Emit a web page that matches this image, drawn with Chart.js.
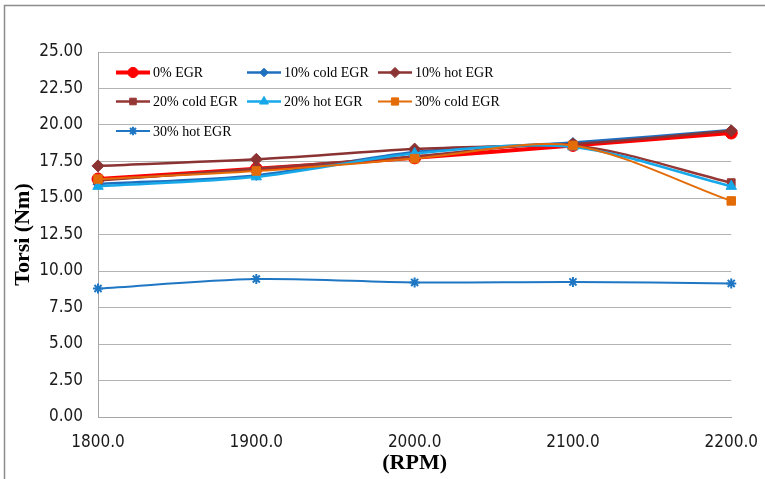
<!DOCTYPE html>
<html>
<head>
<meta charset="utf-8">
<script src="https://cdn.jsdelivr.net/npm/chart.js@4/dist/chart.umd.min.js"></script>
<style>
  html, body { margin: 0; padding: 0; background: #fff; }
  #wrap { width: 765px; height: 479px; position: relative; }
</style>
</head>
<body>
<div id="wrap"><canvas id="c" width="765" height="479"></canvas></div>
<script>
// Engine speed (RPM) and torque (Nm) per EGR configuration
const rpm = [1800, 1900, 2000, 2100, 2200];
const egr0 = [16.3, 17.0, 17.75, 18.6, 19.45];
const egr10Cold = [15.95, 16.55, 18.15, 18.8, 19.65];
const egr10Hot = [17.2, 17.65, 18.35, 18.7, 19.6];
const egr20Cold = [16.2, 17.0, 17.85, 18.6, 16.05];
const egr20Hot = [15.8, 16.45, 18.05, 18.5, 15.8];
const egr30Cold = [16.3, 16.85, 17.7, 18.6, 14.8];
const egr30Hot = [8.8, 9.45, 9.22, 9.25, 9.15];
const yTicks = { min: 0, max: 25, step: 2.5 };

const seriesNames = ['0% EGR', '10% cold EGR', '10% hot EGR', '20% cold EGR', '20% hot EGR', '30% cold EGR', '30% hot EGR'];
const seriesData = [egr0, egr10Cold, egr10Hot, egr20Cold, egr20Hot, egr30Cold, egr30Hot];
const seriesStyle = [
  { color: '#ff0000', width: 4, point: 'circle', radius: 6 },
  { color: '#1f6fbf', width: 2.5, point: 'rectRot', radius: 5 },
  { color: '#8b3333', width: 2.5, point: 'rectRot', radius: 6 },
  { color: '#953735', width: 2.5, point: 'rect', radius: 5.5 },
  { color: '#16a8e8', width: 2.5, point: 'triangle', radius: 6 },
  { color: '#e36c09', width: 2, point: 'rect', radius: 6 },
  { color: '#1f77c4', width: 2, point: 'star', radius: 5 }
];

const tickFont = '"Liberation Sans Narrow", "Arial Narrow", "DejaVu Sans Condensed", "Roboto Condensed", sans-serif';
const serifFont = '"Liberation Serif", "Times New Roman", serif';

const datasets = seriesNames.map((name, i) => {
  const s = seriesStyle[i];
  return {
    label: name,
    data: seriesData[i],
    borderColor: s.color,
    backgroundColor: s.color,
    borderWidth: s.width,
    pointStyle: s.point,
    pointRadius: s.radius,
    pointBorderWidth: s.point === 'star' ? 2 : 1,
    pointBorderColor: s.color,
    pointBackgroundColor: s.color,
    tension: 0.3,
    clip: false,
    order: seriesNames.length - i
  };
});

// Outer frame of the figure
const framePlugin = {
  id: 'frame',
  beforeDraw(chart) {
    const ctx = chart.ctx;
    ctx.save();
    ctx.fillStyle = '#fff';
    ctx.fillRect(0, 0, chart.width, chart.height);
    ctx.strokeStyle = '#8c8c8c';
    ctx.lineWidth = 1.5;
    ctx.strokeRect(4.5, 5.5, chart.width + 20, chart.height + 20);
    ctx.restore();
  }
};

// Three-column legend drawn inside the plot area
const legendPlugin = {
  id: 'insideLegend',
  afterDraw(chart) {
    const ctx = chart.ctx;
    const colX = [116, 247, 378];
    const rowY = [72.5, 101.5, 131];
    const lineLen = 34;
    ctx.save();
    ctx.font = '14px ' + serifFont;
    ctx.textBaseline = 'middle';
    chart.data.datasets.forEach((ds, i) => {
      const x = colX[i % 3];
      const y = rowY[Math.floor(i / 3)];
      ctx.strokeStyle = ds.borderColor;
      ctx.lineWidth = ds.borderWidth;
      ctx.beginPath();
      ctx.moveTo(x, y);
      ctx.lineTo(x + lineLen, y);
      ctx.stroke();
      ctx.fillStyle = ds.pointBackgroundColor;
      ctx.lineWidth = ds.pointBorderWidth;
      Chart.helpers.drawPoint(ctx, {
        pointStyle: ds.pointStyle,
        radius: ds.pointRadius * 0.85,
        borderWidth: ds.pointBorderWidth,
        rotation: 0
      }, x + lineLen / 2, y);
      ctx.fillStyle = '#000';
      ctx.fillText(ds.label, x + lineLen + 3, y + 1);
    });
    ctx.restore();
  }
};

new Chart(document.getElementById('c'), {
  type: 'line',
  data: { labels: rpm.map(v => v.toFixed(1)), datasets },
  options: {
    responsive: false,
    animation: false,
    devicePixelRatio: 1,
    layout: { padding: { top: 52, right: 32, left: 0, bottom: 0 } },
    plugins: { legend: { display: false }, tooltip: { enabled: false } },
    scales: {
      x: {
        offset: false,
        grid: { display: false },
        border: { display: true, color: '#a6a6a6', width: 1 },
        ticks: {
          color: '#1a1a1a',
          padding: 7,
          maxRotation: 0,
          font: { family: tickFont, size: 17 }
        },
        title: {
          display: true,
          text: '(RPM)',
          color: '#000',
          padding: { top: 0, bottom: 2 },
          font: { family: serifFont, size: 22, weight: 'bold' }
        },
        afterFit(scale) { scale.height = 62; }
      },
      y: {
        min: yTicks.min,
        max: yTicks.max,
        grid: { color: '#b3b3b3', drawTicks: false, lineWidth: 1 },
        border: { display: true, color: '#a6a6a6', width: 1 },
        ticks: {
          stepSize: yTicks.step,
          color: '#1a1a1a',
          padding: 15,
          callback: v => Number(v).toFixed(2),
          font: { family: tickFont, size: 17 }
        },
        title: {
          display: true,
          text: 'Torsi (Nm)',
          color: '#000',
          padding: { top: 10, bottom: 0 },
          font: { family: serifFont, size: 22, weight: 'bold' }
        },
        afterFit(scale) { scale.width = 98; }
      }
    }
  },
  plugins: [framePlugin, legendPlugin]
});
</script>
</body>
</html>
